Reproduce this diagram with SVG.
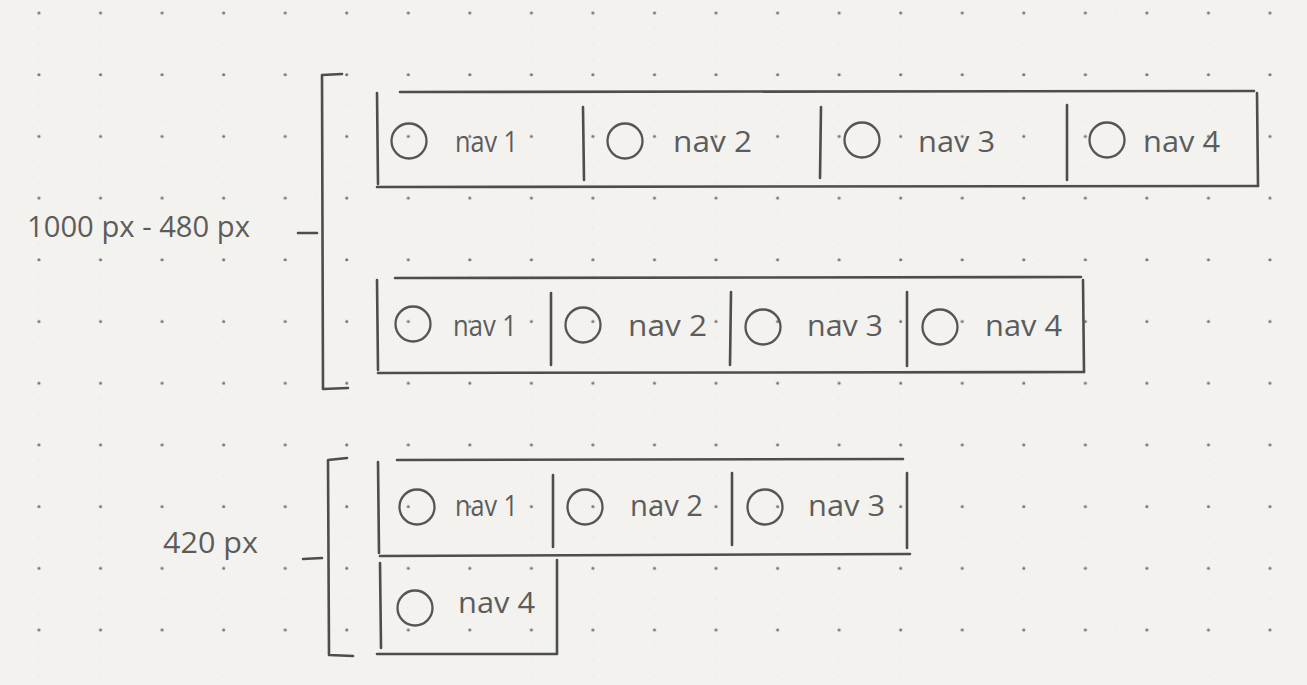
<svg xmlns="http://www.w3.org/2000/svg" width="1307" height="685" viewBox="0 0 1307 685">
  <style>
    .ln { fill: none; stroke: #4d4d4d; stroke-width: 2.6; stroke-linecap: round; stroke-linejoin: round; }
    .ic { fill: none; stroke: #555555; stroke-width: 2.3; }
    .lbl { font-family: "Open Sans", "Liberation Sans", sans-serif; font-weight: 400; font-size: 29px; fill: #5c5c5c; }
  </style>
  <defs>
    <pattern id="dots" patternUnits="userSpaceOnUse" x="31.3" y="5.3" width="61.55" height="61.7">
      <circle cx="23.1" cy="7.7" r="0.6" fill="#d9dee2"/>
      <circle cx="38.5" cy="7.7" r="0.6" fill="#d9dee2"/>
      <circle cx="53.9" cy="7.7" r="0.6" fill="#d9dee2"/>
      <circle cx="7.7" cy="23.1" r="0.6" fill="#d9dee2"/>
      <circle cx="7.7" cy="38.5" r="0.6" fill="#d9dee2"/>
      <circle cx="7.7" cy="53.9" r="0.6" fill="#d9dee2"/>
      <circle cx="7.7" cy="7.7" r="1.6" fill="#777777"/>
    </pattern>
  </defs>

  <rect width="1307" height="685" fill="#f3f2ef"/>
  <rect width="1307" height="685" fill="url(#dots)"/>

  <g id="connectors">
    <path class="ln" d="M342 74 L322 75 L323 389 L348 388"/>
    <path class="ln" d="M298 233 L317 233"/>
    <path class="ln" d="M347 458 L328 460 L329 655 L353 656"/>
    <path class="ln" d="M303 559 L322 558"/>
  </g>

  <g id="label-wide">
    <text class="lbl" x="27" y="237" textLength="223" lengthAdjust="spacingAndGlyphs">1000 px - 480 px</text>
  </g>
  <g id="label-narrow">
    <text class="lbl" x="163" y="553" textLength="95" lengthAdjust="spacingAndGlyphs">420 px</text>
  </g>

  <!-- Row 1 -->
  <g id="row1">
    <path class="ln" d="M400 92 L1254 91"/>
    <path class="ln" d="M377 187 L1258 186"/>
    <path class="ln" d="M377 93 L378 184"/>
    <path class="ln" d="M1257 93 L1258 186"/>
    <g id="row1-nav1">
      <circle class="ic" cx="409" cy="141" r="17.5"/>
      <text class="lbl" x="455" y="152" textLength="63" lengthAdjust="spacingAndGlyphs">nav 1</text>
    </g>
    <g id="row1-nav2">
      <path class="ln" d="M583 107 L584 180"/>
      <circle class="ic" cx="625" cy="141" r="17.5"/>
      <text class="lbl" x="673" y="152" textLength="79" lengthAdjust="spacingAndGlyphs">nav 2</text>
    </g>
    <g id="row1-nav3">
      <path class="ln" d="M821 107 L820 178"/>
      <circle class="ic" cx="862" cy="140" r="17.5"/>
      <text class="lbl" x="918" y="152" textLength="77" lengthAdjust="spacingAndGlyphs">nav 3</text>
    </g>
    <g id="row1-nav4">
      <path class="ln" d="M1067 105 L1067 180"/>
      <circle class="ic" cx="1107" cy="140" r="17.5"/>
      <text class="lbl" x="1143" y="152" textLength="77" lengthAdjust="spacingAndGlyphs">nav 4</text>
    </g>
  </g>

  <!-- Row 2 -->
  <g id="row2">
    <path class="ln" d="M395 278 L1081 277"/>
    <path class="ln" d="M378 373 L1084 372"/>
    <path class="ln" d="M377 280 L378 370"/>
    <path class="ln" d="M1083 280 L1084 372"/>
    <g id="row2-nav1">
      <circle class="ic" cx="413" cy="324" r="17.5"/>
      <text class="lbl" x="453" y="336" textLength="64" lengthAdjust="spacingAndGlyphs">nav 1</text>
    </g>
    <g id="row2-nav2">
      <path class="ln" d="M551 293 L551 365"/>
      <circle class="ic" cx="583" cy="325" r="17.5"/>
      <text class="lbl" x="628" y="336" textLength="79" lengthAdjust="spacingAndGlyphs">nav 2</text>
    </g>
    <g id="row2-nav3">
      <path class="ln" d="M731 292 L730 365"/>
      <circle class="ic" cx="763" cy="327" r="17.5"/>
      <text class="lbl" x="807" y="336" textLength="76" lengthAdjust="spacingAndGlyphs">nav 3</text>
    </g>
    <g id="row2-nav4">
      <path class="ln" d="M907 292 L907 366"/>
      <circle class="ic" cx="940" cy="327" r="17.5"/>
      <text class="lbl" x="985" y="336" textLength="77" lengthAdjust="spacingAndGlyphs">nav 4</text>
    </g>
  </g>

  <!-- Row 3 -->
  <g id="row3">
    <path class="ln" d="M397 460 L903 459"/>
    <path class="ln" d="M380 556 L910 554"/>
    <path class="ln" d="M378 462 L379 553"/>
    <path class="ln" d="M907 473 L907 548"/>
    <g id="row3-nav1">
      <circle class="ic" cx="417" cy="507" r="17.5"/>
      <text class="lbl" x="455" y="516" textLength="63" lengthAdjust="spacingAndGlyphs">nav 1</text>
    </g>
    <g id="row3-nav2">
      <path class="ln" d="M553 475 L553 547"/>
      <circle class="ic" cx="585" cy="507" r="17.5"/>
      <text class="lbl" x="630" y="516" textLength="73" lengthAdjust="spacingAndGlyphs">nav 2</text>
    </g>
    <g id="row3-nav3">
      <path class="ln" d="M732 473 L732 545"/>
      <circle class="ic" cx="765" cy="507" r="17.5"/>
      <text class="lbl" x="808" y="516" textLength="77" lengthAdjust="spacingAndGlyphs">nav 3</text>
    </g>
    <g id="row3-nav4">
      <path class="ln" d="M380 563 L381 648"/>
      <path class="ln" d="M557 560 L557 653"/>
      <path class="ln" d="M377 654 L557 654"/>
      <circle class="ic" cx="415" cy="608" r="17.5"/>
      <text class="lbl" x="458" y="613" textLength="77" lengthAdjust="spacingAndGlyphs">nav 4</text>
    </g>
  </g>
</svg>
